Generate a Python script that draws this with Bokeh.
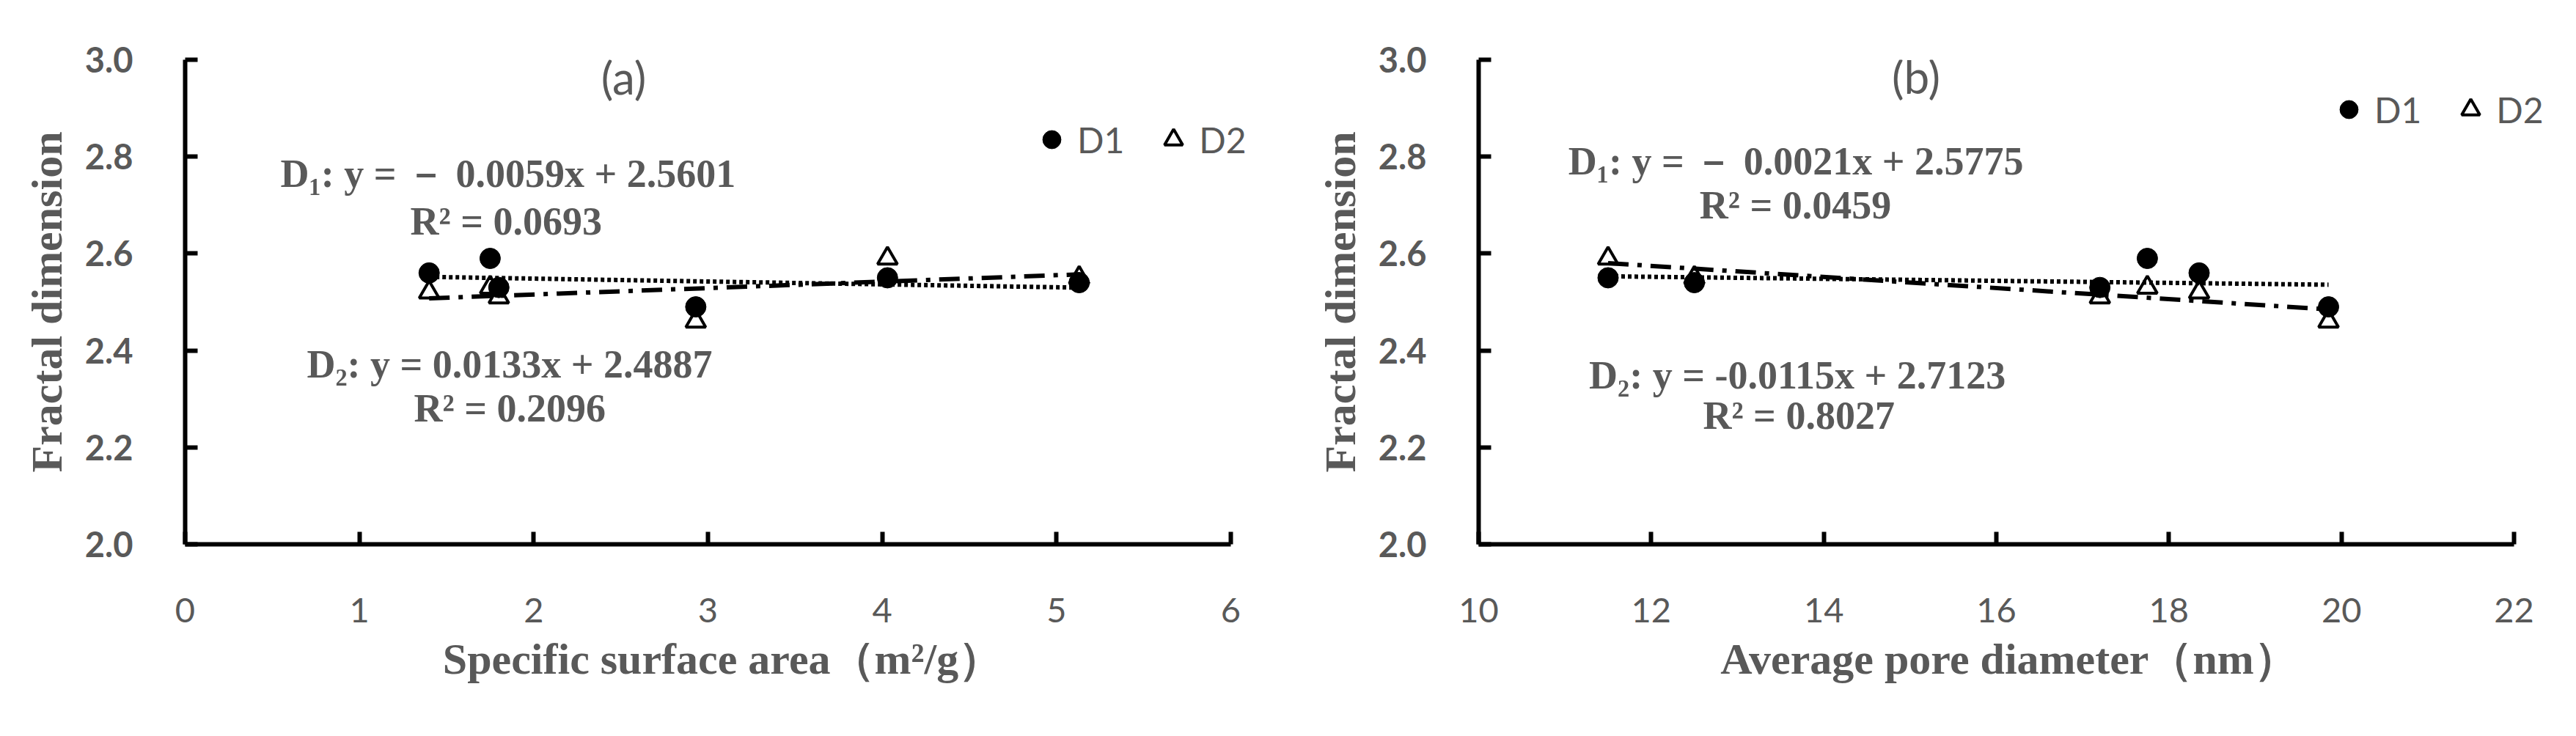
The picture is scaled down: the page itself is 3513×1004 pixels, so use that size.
import numpy as np
from bokeh.plotting import figure
from bokeh.layouts import row
from bokeh.models import Range1d, FixedTicker, NumeralTickFormatter, Label, Legend, LegendItem
from bokeh.embed import file_html
from bokeh.resources import INLINE

# ---------------- data ----------------
ssa = [1.40, 1.75, 1.80, 2.93, 4.03, 5.13]          # specific surface area (m2/g)
d1_ssa = [2.56, 2.59, 2.53, 2.49, 2.55, 2.54]
d2_ssa = [2.52, 2.53, 2.51, 2.46, 2.59, 2.55]

apd = [11.5, 12.5, 17.2, 17.75, 18.35, 19.85]       # average pore diameter (nm)
d1_apd = [2.55, 2.54, 2.53, 2.59, 2.56, 2.49]
d2_apd = [2.59, 2.55, 2.51, 2.53, 2.52, 2.46]

x_ticks_a = [0, 1, 2, 3, 4, 5, 6]
x_ticks_b = [10, 12, 14, 16, 18, 20, 22]
y_ticks = [2.0, 2.2, 2.4, 2.6, 2.8, 3.0]
series_names = ["D1", "D2"]

eq_a = ["D\u2081: y =  \uff0d 0.0059x + 2.5601", "R\u00b2 = 0.0693",
        "D\u2082: y = 0.0133x + 2.4887", "R\u00b2 = 0.2096"]
eq_b = ["D\u2081: y =  \uff0d 0.0021x + 2.5775", "R\u00b2 = 0.0459",
        "D\u2082: y = -0.0115x + 2.7123", "R\u00b2 = 0.8027"]

GRAY = "#595959"
SERIF = "Liberation Serif"
SANS = "Lato"


def panel(x, d1, d2, xticks, x_extra, xlabel, tag, eqs, eq_pos, tag_pos, legend_loc,
          width, height, left, right, top, bottom):
    p = figure(width=width, height=height, output_backend="svg", toolbar_location=None,
               x_range=Range1d(xticks[0], xticks[-1] + x_extra),
               y_range=Range1d(y_ticks[0], y_ticks[-1]),
               min_border_left=left, min_border_right=right,
               min_border_top=top, min_border_bottom=bottom)
    p.outline_line_color = None
    p.grid.visible = False
    p.background_fill_color = "white"

    # trendlines (least squares from the data)
    xs = np.array([min(x), max(x)])
    k1, b1 = np.polyfit(x, d1, 1)
    k2, b2 = np.polyfit(x, d2, 1)
    p.line(xs, k1 * xs + b1, line_color="black", line_width=6, line_dash="5 4")
    p.line(xs, k2 * xs + b2, line_color="black", line_width=6, line_dash="28 12 6 12")

    rt = p.scatter(x, d2, marker="triangle", size=27, fill_alpha=0,
                   line_color="black", line_width=4)
    rc = p.scatter(x, d1, marker="circle", size=28, fill_color="black", line_color="black")

    for ax in (p.xaxis[0], p.yaxis[0]):
        ax.axis_line_width = 6
        ax.axis_line_color = "black"
        ax.major_tick_line_width = 6
        ax.major_tick_line_color = "black"
        ax.major_tick_in = 17
        ax.major_tick_out = 0
        ax.minor_tick_line_color = None
        ax.major_label_text_color = GRAY
        ax.major_label_text_font = SANS
        ax.major_label_text_font_size = "47px"
        ax.axis_label_text_color = GRAY
        ax.axis_label_text_font = SERIF
        ax.axis_label_text_font_style = "bold"

    p.xaxis.bounds = (xticks[0], xticks[-1])
    p.xaxis.ticker = FixedTicker(ticks=xticks)
    p.xaxis.major_label_standoff = 73
    p.xaxis.axis_label = xlabel
    p.xaxis.axis_label_text_font_size = "60px"
    p.xaxis.axis_label_standoff = 14

    p.yaxis.ticker = FixedTicker(ticks=y_ticks)
    p.yaxis.formatter = NumeralTickFormatter(format="0.0")
    p.yaxis.major_label_standoff = 71
    p.yaxis.major_label_text_font_style = "bold"
    p.yaxis.axis_label = "Fractal dimension"
    p.yaxis.axis_label_text_font_size = "60px"
    p.yaxis.axis_label_standoff = 16

    p.add_layout(Label(x=tag_pos[0], y=tag_pos[1], text=tag, text_align="center",
                       text_baseline="middle", text_font=SANS, text_font_size="62px",
                       text_color=GRAY))
    for txt, (ex, ey) in zip(eqs, eq_pos):
        p.add_layout(Label(x=ex, y=ey, text=txt, text_align="left", text_baseline="middle",
                           text_font=SERIF, text_font_style="bold", text_font_size="54px",
                           text_color=GRAY))

    leg = Legend(items=[LegendItem(label=series_names[0], renderers=[rc]),
                        LegendItem(label=series_names[1], renderers=[rt])],
                 orientation="horizontal", location=legend_loc,
                 glyph_width=62, glyph_height=62, label_standoff=4, spacing=36,
                 padding=0, margin=0, border_line_color=None, background_fill_alpha=0,
                 label_text_font=SANS, label_text_font_size="48px", label_text_color=GRAY)
    p.add_layout(leg)
    return p


# panel (a): 237.67 px per unit, frame extended 40 px right of the axis end for the legend
pa = panel(ssa, d1_ssa, d2_ssa, x_ticks_a, 40 / 237.67,
           "Specific surface area\uff08m\u00b2/g\uff09", "(a)", eq_a,
           [(0.547, 2.764), (1.292, 2.667), (0.698, 2.372), (1.313, 2.280)], (2.516, 2.965),
           (1151, 521), 1752, 984, 252, 34, 81, 242)
# panel (b): 117.67 px per unit, frame extended 50 px
pb = panel(apd, d1_apd, d2_apd, x_ticks_b, 50 / 117.67,
           "Average  pore diameter\uff08nm\uff09", "(b)", eq_b,
           [(11.04, 2.791), (12.56, 2.700), (11.28, 2.348), (12.60, 2.265)], (15.07, 2.966),
           (1156, 562), 1745, 984, 264, 19, 69, 212)

layout = row(pa, pb)
open("out.html", "w").write(file_html(layout, INLINE))
